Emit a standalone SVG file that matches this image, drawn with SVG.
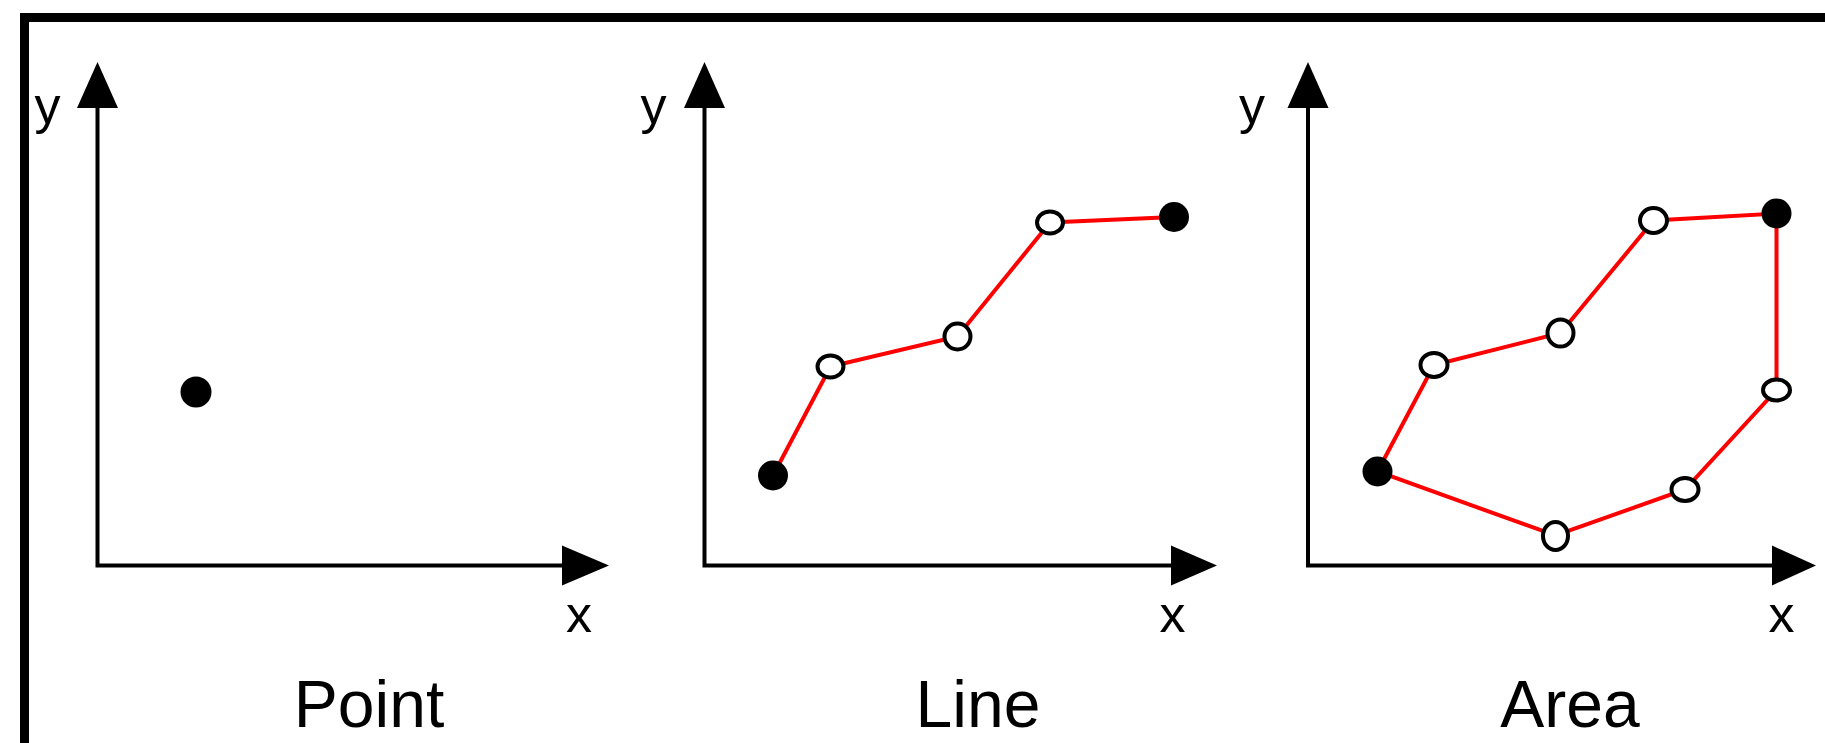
<svg xmlns="http://www.w3.org/2000/svg" width="1825" height="743" viewBox="0 0 1825 743">
<style>
.frame{fill:none;stroke:#000;stroke-width:9}
.axis{fill:none;stroke:#000;stroke-width:4}
.head{fill:#000}
.edge{fill:none;stroke:#ff0000;stroke-width:4;stroke-linejoin:miter}
.filled{fill:#000}
.open{fill:#fff;stroke:#000;stroke-width:4}
.lab{font-family:"Liberation Sans",Arial,sans-serif;font-size:52px;fill:#000;text-anchor:middle}
.title{font-family:"Liberation Sans",Arial,sans-serif;font-size:66px;fill:#000;text-anchor:middle}
</style>
<rect x="0" y="0" width="1825" height="743" fill="#fff"/>
<rect class="frame" x="24.5" y="17.5" width="1850" height="800"/>

<g id="panel-point">
  <path class="axis" d="M97.5,105 V565.5 H565"/>
  <polygon class="head" points="97.5,62 77,108 118,108"/>
  <polygon class="head" points="609,565.5 562,545.5 562,585.5"/>
  <text class="lab" x="47.5" y="123">y</text>
  <text class="lab" x="579" y="632">x</text>
  <text class="title" x="369" y="727">Point</text>
</g>

<g id="panel-line">
  <path class="axis" d="M704.5,105 V565.5 H1174"/>
  <polygon class="head" points="704.5,62 684,108 725,108"/>
  <polygon class="head" points="1217,565.5 1171,545.5 1171,585.5"/>
  <text class="lab" x="653.5" y="123">y</text>
  <text class="lab" x="1172.5" y="632">x</text>
  <text class="title" x="978" y="727">Line</text>
</g>

<g id="panel-area">
  <path class="axis" d="M1308,105 V565.5 H1775"/>
  <polygon class="head" points="1308,62 1287.5,108 1328.5,108"/>
  <polygon class="head" points="1816,565.5 1772,545.5 1772,585.5"/>
  <text class="lab" x="1252" y="123">y</text>
  <text class="lab" x="1781.5" y="632">x</text>
  <text class="title" x="1570" y="727">Area</text>
</g>

<g id="connectors">
  <polyline class="edge" points="773,475.5 830.5,366.5 957.5,336.5 1050,222.5 1174,217"/>
  <polygon class="edge" points="1377.5,471.5 1434,365 1560.5,333 1653.5,220.5 1776.5,213.5 1776.5,390 1685,489.5 1555.5,535.5"/>
</g>

<g id="point-dot"><circle class="filled" cx="196" cy="392" r="15.5"/></g>

<g id="line-v1"><circle class="filled" cx="773" cy="475.5" r="15"/></g>
<g id="line-v2"><ellipse class="open" cx="830.5" cy="366.5" rx="13" ry="11"/></g>
<g id="line-v3"><ellipse class="open" cx="957.5" cy="336.5" rx="13" ry="13"/></g>
<g id="line-v4"><ellipse class="open" cx="1050" cy="222.5" rx="13" ry="11"/></g>
<g id="line-v5"><circle class="filled" cx="1174" cy="217" r="15"/></g>

<g id="area-v1"><circle class="filled" cx="1377.5" cy="471.5" r="15"/></g>
<g id="area-v2"><ellipse class="open" cx="1434" cy="365" rx="13.5" ry="12"/></g>
<g id="area-v3"><ellipse class="open" cx="1560.5" cy="333" rx="13" ry="13.5"/></g>
<g id="area-v4"><ellipse class="open" cx="1653.5" cy="220.5" rx="13.5" ry="12.5"/></g>
<g id="area-v5"><circle class="filled" cx="1776.5" cy="213.5" r="15"/></g>
<g id="area-v6"><ellipse class="open" cx="1776.5" cy="390" rx="13.5" ry="10.5"/></g>
<g id="area-v7"><ellipse class="open" cx="1685" cy="489.5" rx="13.5" ry="11.5"/></g>
<g id="area-v8"><ellipse class="open" cx="1555.5" cy="536" rx="12.5" ry="14"/></g>
</svg>
